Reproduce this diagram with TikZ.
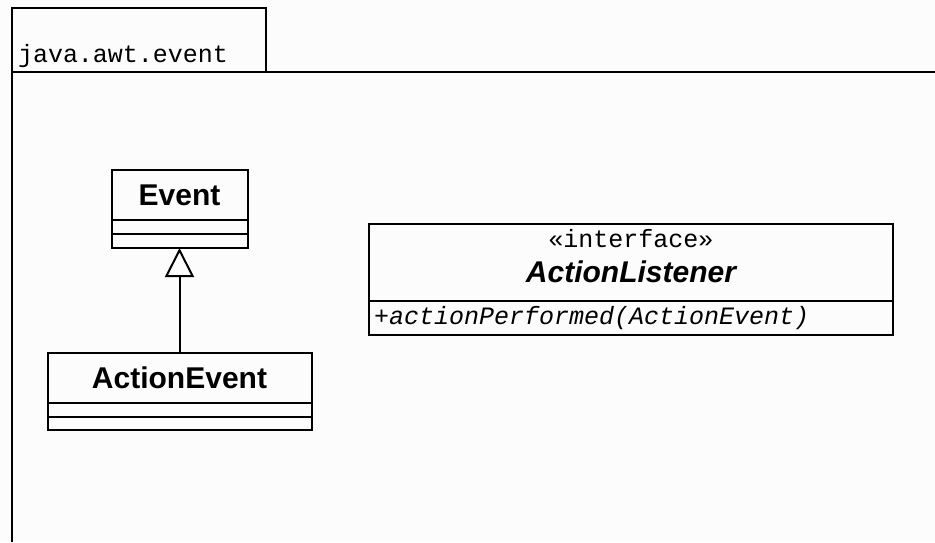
\documentclass[tikz,border=0pt]{standalone}
\usepackage{fontspec}
\setmainfont{Liberation Sans}
\setsansfont{Liberation Sans}
\setmonofont{Liberation Mono}
\usetikzlibrary{arrows.meta, positioning}

\begin{document}
\begin{tikzpicture}[
    x=1pt, y=-1pt,
    line width=2pt,
    every node/.style={inner sep=0pt, outer sep=0pt},
    classname/.style={draw, minimum height=50pt, font=\sffamily\bfseries\fontsize{30}{35}\selectfont},
    compart/.style={draw, minimum height=14pt},
    mono/.style={font=\ttfamily\fontsize{25}{30}\selectfont},
]

% ============================================================
% Canvas and package frame
% ============================================================
\fill[white!99!black] (0,0) rectangle (935,542);
\useasboundingbox (0,0) rectangle (935,542);
% Tab
\draw (12,72) |- (266,8) -- (266,72);
\node[mono, anchor=base west] (pkglabel) at (18,62) {java.awt.event};
% Body
\draw (12,542) |- (935,72);

% ============================================================
% Classes
% ============================================================
% Event
\node[classname, minimum width=136pt] (event) at (179.5,195) {Event};
\node[compart, minimum width=136pt, below=0pt of event] (eventattr) {};
\node[compart, minimum width=136pt, below=0pt of eventattr] (eventops) {};
% ActionEvent
\node[classname, minimum width=264pt] (actionevent) at (179.5,378) {ActionEvent};
\node[compart, minimum width=264pt, below=0pt of actionevent] (actioneventattr) {};
\node[compart, minimum width=264pt, below=0pt of actioneventattr, minimum height=13pt] (actioneventops) {};
% ActionListener (interface)
\node[draw, minimum width=524pt, minimum height=77pt, align=center, text depth=14pt,
      font=\fontsize{30}{35}\selectfont] (listener) at (631,262.5)
    {{\ttfamily\fontsize{25}{35}\selectfont «interface»}\\{\sffamily\bfseries\itshape ActionListener}};
\node[draw, mono, minimum width=524pt, minimum height=34pt, text width=514pt, align=left,
      inner xsep=5pt, below=0pt of listener] (listenerops)
    {\itshape +actionPerformed(ActionEvent)};

% Generalization
\draw[-{Triangle[open, length=29pt, width=29pt]}] (actionevent.north) -- (eventops.south);

\end{tikzpicture}
\end{document}
